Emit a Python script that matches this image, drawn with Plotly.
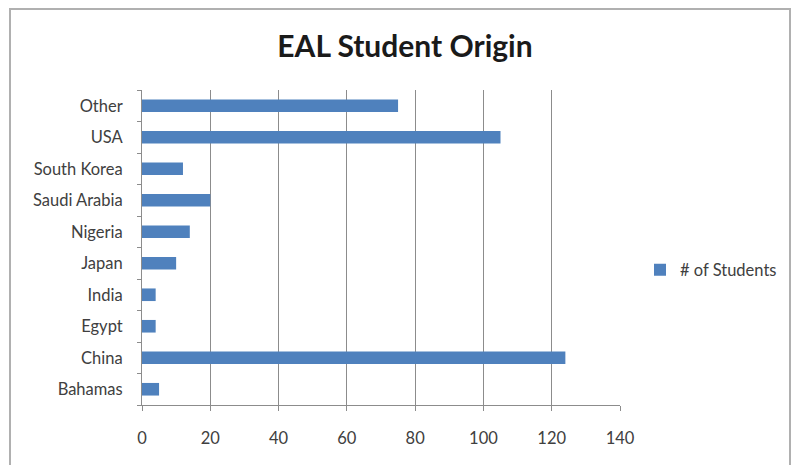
import plotly.graph_objects as go

countries = ["Bahamas", "China", "Egypt", "India", "Japan", "Nigeria",
             "Saudi Arabia", "South Korea", "USA", "Other"]
students = [5, 124, 4, 4, 10, 14, 20, 12, 105, 75]
x_ticks = [0, 20, 40, 60, 80, 100, 120, 140]

L, R, T, B = 142, 171, 90, 60
W, H = 791, 465
pw, ph = W - L - R, H - T - B

def px_x(v):
    return (v - L) / pw

def px_y(v):
    return (H - B - v) / ph

fig = go.Figure()
fig.add_trace(go.Bar(
    y=countries, x=students, orientation="h",
    name="# of Students",
    marker=dict(color="#4F81BD", line=dict(width=0)),
))

axis_font = dict(family="Lato, 'Open Sans', sans-serif", size=16.5, color="#404040")

fig.update_layout(
    width=W, height=H,
    margin=dict(l=L, r=R, t=T, b=B, autoexpand=False),
    paper_bgcolor="white", plot_bgcolor="white",
    bargap=0.6,
    title=dict(text="<b>EAL Student Origin</b>", xref="container", x=405 / W, xanchor="center",
               yref="container", y=1 - 46 / H, yanchor="middle",
               font=dict(family="Lato, 'Open Sans', sans-serif", size=30, color="#1a1a1a")),
    showlegend=True,
    legend=dict(x=px_x(640), xanchor="left", y=px_y(270), yanchor="middle",
                font=dict(family="Lato, 'Open Sans', sans-serif", size=16.5, color="#404040"),
                bgcolor="rgba(0,0,0,0)"),
    xaxis=dict(range=[0, 140], tickvals=x_ticks, ticktext=[str(v) for v in x_ticks],
               showgrid=True, gridcolor="#8c8c8c", gridwidth=1,
               showline=True, linecolor="#8c8c8c", linewidth=1,
               ticks="outside", ticklen=5, tickcolor="#8c8c8c",
               ticklabelstandoff=13, tickfont=axis_font, zeroline=False),
    yaxis=dict(type="category", categoryorder="array", categoryarray=countries,
               showline=True, linecolor="#8c8c8c", linewidth=1,
               ticks="outside", ticklen=4, tickcolor="#8c8c8c", tickson="boundaries",
               ticklabelstandoff=15, tickfont=axis_font, showgrid=False),
    shapes=[dict(type="rect", xref="paper", yref="paper",
                 x0=px_x(10), x1=px_x(790), y0=px_y(470), y1=px_y(9),
                 line=dict(color="#b0b0b0", width=2), fillcolor="rgba(0,0,0,0)",
                 layer="below")],
)

fig.write_html("out.html")
